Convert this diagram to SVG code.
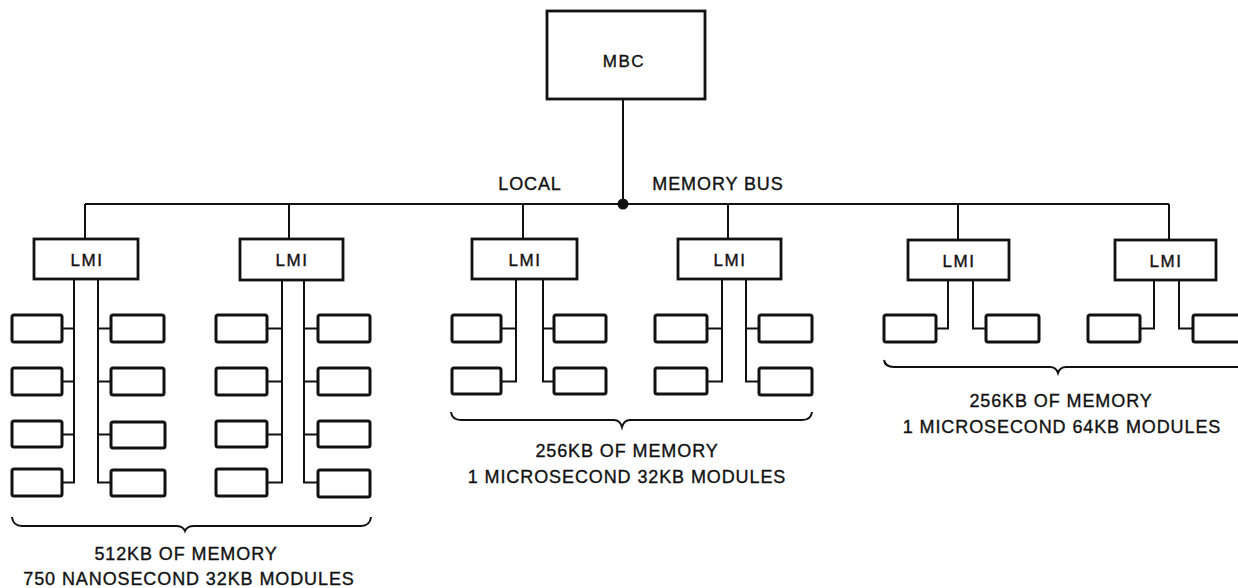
<svg xmlns="http://www.w3.org/2000/svg" width="1238" height="588" viewBox="0 0 1238 588">
<style>
.box{fill:#fff;stroke:#111;stroke-width:2.8}
.mod{fill:#fff;stroke:#111;stroke-width:3}
.ln{fill:none;stroke:#111;stroke-width:2}
.br{fill:none;stroke:#111;stroke-width:2}
text{font-family:"Liberation Sans",Arial,sans-serif;fill:#111;stroke:#111;stroke-width:0.35;text-anchor:middle}
.t{font-size:17px;letter-spacing:1.5px}
.lab{font-size:18px;letter-spacing:0.9px}
</style>
<rect width="1238" height="588" fill="#fff"/>
<g id="connectors">
<path class="ln" d="M623,99 V204 M85,204 H1169 M85,204 V239 M289,204 V239 M523,204 V239 M728,204 V239 M958,204 V240 M1169,204 V240"/>
<circle cx="623" cy="204" r="5.5" fill="#111"/>
<path class="ln" d="M74,279 V482.5 H62 M62,328.5 H74 M62,381.5 H74 M62,434.5 H74 M98,279 V482.5 H111 M98,328.5 H111 M98,381.5 H111 M98,434.5 H111"/>
<path class="ln" d="M282,280 V482.5 H267 M267,328.5 H282 M267,381.5 H282 M267,434.5 H282 M304,280 V482.5 H318 M304,328.5 H318 M304,381.5 H318 M304,434.5 H318"/>
<path class="ln" d="M516,279 V381.5 H501 M501,328.5 H516 M543,279 V381.5 H554 M543,328.5 H554"/>
<path class="ln" d="M722,279 V381.5 H707 M707,328.5 H722 M746,279 V381.5 H759 M746,328.5 H759"/>
<path class="ln" d="M948,280 V328.5 H936 M973,280 V328.5 H986"/>
<path class="ln" d="M1154,280 V328.5 H1140 M1179,280 V328.5 H1193"/>
</g>
<g id="mbc">
<rect class="box" x="547" y="11" width="158" height="88"/>
<text class="t" x="624" y="67">MBC</text>
</g>
<g id="bus-label">
<text class="lab" x="530" y="190">LOCAL</text>
<text class="lab" x="718" y="190">MEMORY BUS</text>
</g>
<g id="lmi1"><rect class="box" x="34" y="239" width="104" height="40"/><text class="t" x="87" y="266">LMI</text></g>
<g id="lmi2"><rect class="box" x="240" y="239" width="103" height="41"/><text class="t" x="292" y="266">LMI</text></g>
<g id="lmi3"><rect class="box" x="472" y="239" width="105" height="40"/><text class="t" x="525" y="266">LMI</text></g>
<g id="lmi4"><rect class="box" x="678" y="239" width="103" height="40"/><text class="t" x="730" y="266">LMI</text></g>
<g id="lmi5"><rect class="box" x="908" y="240" width="101" height="40"/><text class="t" x="959" y="267">LMI</text></g>
<g id="lmi6"><rect class="box" x="1115" y="240" width="101" height="40"/><text class="t" x="1166" y="267">LMI</text></g>
<g id="modules-lmi1">
<rect class="mod" x="12" y="315" width="50" height="27" rx="2"/><rect class="mod" x="12" y="368" width="50" height="27" rx="2"/><rect class="mod" x="12" y="421" width="50" height="26" rx="2"/><rect class="mod" x="12" y="469" width="50" height="27" rx="2"/>
<rect class="mod" x="111" y="315" width="53" height="27" rx="2"/><rect class="mod" x="111" y="368" width="53" height="27" rx="2"/><rect class="mod" x="111" y="422" width="54" height="26" rx="2"/><rect class="mod" x="111" y="470" width="54" height="26" rx="2"/>
</g>
<g id="modules-lmi2">
<rect class="mod" x="216" y="315" width="51" height="27" rx="2"/><rect class="mod" x="216" y="368" width="51" height="27" rx="2"/><rect class="mod" x="216" y="421" width="51" height="26" rx="2"/><rect class="mod" x="216" y="469" width="51" height="27" rx="2"/>
<rect class="mod" x="318" y="315" width="52" height="27" rx="2"/><rect class="mod" x="318" y="368" width="52" height="27" rx="2"/><rect class="mod" x="318" y="421" width="52" height="26" rx="2"/><rect class="mod" x="318" y="470" width="52" height="27" rx="2"/>
</g>
<g id="modules-lmi3">
<rect class="mod" x="452" y="315" width="49" height="27" rx="2"/><rect class="mod" x="452" y="368" width="49" height="26" rx="2"/>
<rect class="mod" x="554" y="315" width="52" height="27" rx="2"/><rect class="mod" x="554" y="368" width="52" height="26" rx="2"/>
</g>
<g id="modules-lmi4">
<rect class="mod" x="655" y="315" width="52" height="27" rx="2"/><rect class="mod" x="655" y="368" width="52" height="26" rx="2"/>
<rect class="mod" x="759" y="315" width="53" height="27" rx="2"/><rect class="mod" x="759" y="368" width="53" height="27" rx="2"/>
</g>
<g id="modules-lmi5">
<rect class="mod" x="884" y="315" width="52" height="27" rx="2"/>
<rect class="mod" x="986" y="315" width="53" height="27" rx="2"/>
</g>
<g id="modules-lmi6">
<rect class="mod" x="1088" y="315" width="52" height="27" rx="2"/>
<rect class="mod" x="1193" y="315" width="60" height="27" rx="2"/>
</g>
<g id="group-left">
<path class="br" d="M12,517 Q13,526 22,526 L176,526 Q183,526 185,531 Q187,526 194,526 L361,526 Q370,526 371,517"/>
<text class="lab" x="186" y="560">512KB OF MEMORY</text>
<text class="lab" x="189" y="585">750 NANOSECOND 32KB MODULES</text>
</g>
<g id="group-middle">
<path class="br" d="M451,412 Q452,420 461,420 L614,420 Q620,420 622,427 Q624,420 630,420 L802,420 Q811,420 812,412"/>
<text class="lab" x="627" y="457">256KB OF MEMORY</text>
<text class="lab" x="627" y="483">1 MICROSECOND 32KB MODULES</text>
</g>
<g id="group-right">
<path class="br" d="M884,360 Q885,367 894,367 L1050,367 Q1056,367 1058,373 Q1060,367 1066,367 L1240,367"/>
<text class="lab" x="1061" y="407">256KB OF MEMORY</text>
<text class="lab" x="1062" y="433">1 MICROSECOND 64KB MODULES</text>
</g>
</svg>
